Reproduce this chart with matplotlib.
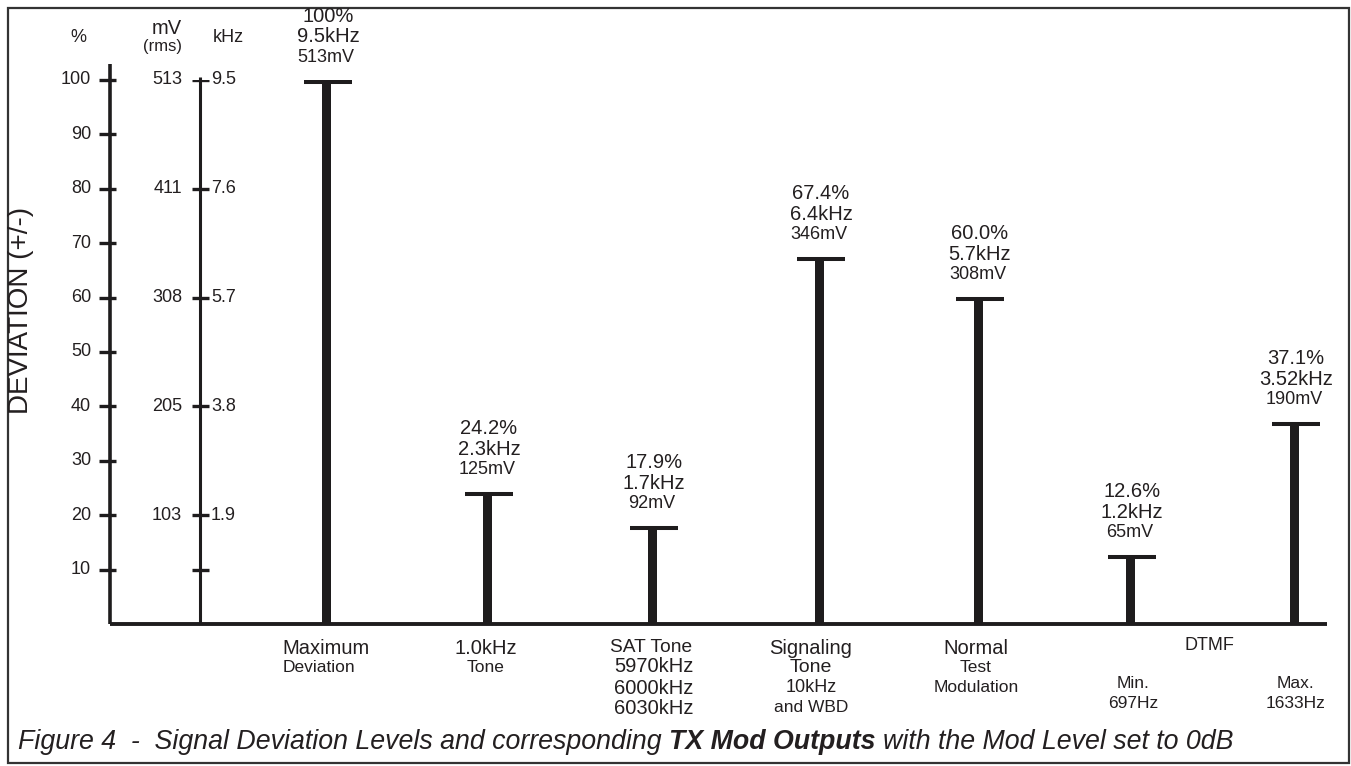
import matplotlib.pyplot as plt
from matplotlib.patches import Rectangle

plt.rcParams['font.family'] = ['Liberation Sans', 'DejaVu Sans']

# values (deviation in % of max, kHz and mV equivalents)
deviation_pct = [100, 24.2, 17.9, 67.4, 60.0, 12.6, 37.1]
pct_labels = ["100%", "24.2%", "17.9%", "67.4%", "60.0%", "12.6%", "37.1%"]
khz_labels = ["9.5kHz", "2.3kHz", "1.7kHz", "6.4kHz", "5.7kHz", "1.2kHz", "3.52kHz"]
mv_labels = ["513mV", "125mV", "92mV", "346mV", "308mV", "65mV", "190mV"]

# text under each bar (first line larger)
cat_lines = [
    ["Maximum", "Deviation"],
    ["1.0kHz", "Tone"],
    ["SAT Tone", "5970kHz", "6000kHz", "6030kHz"],
    ["Signaling", "Tone", "10kHz", "and WBD"],
    ["Normal", "Test", "Modulation"],
    ["Min.", "697Hz"],
    ["Max.", "1633Hz"],
]
group_label = "DTMF"

# left hand scales
pct_ticks = [10, 20, 30, 40, 50, 60, 70, 80, 90, 100]
scale_ticks = [100, 80, 60, 40, 20, 10]
mv_ticks = ["513", "411", "308", "205", "103", ""]
khz_ticks = ["9.5", "7.6", "5.7", "3.8", "1.9", ""]

W, H = 1351, 766
Y0, Y100 = 624, 80          # pixel rows of 0% and 100%
bar_x = [326, 487, 652, 819, 978, 1130, 1294]
ink = '#1e1c1d'
txt = '#231f20'

fig = plt.figure(figsize=(W / 100, H / 100), dpi=100)

# background canvas in pixel units (frame, headers, captions)
bg = fig.add_axes([0, 0, 1, 1])
bg.set_xlim(0, W)
bg.set_ylim(H, 0)
bg.axis('off')

# chart axes: x in pixels, y in percent
ax = fig.add_axes([0, (H - Y0) / H, 1, (Y0 - Y100) / H])
ax.set_xlim(0, W)
ax.set_ylim(0, 100)
ax.axis('off')

bg.add_patch(Rectangle((8, 8), 1341, 755, fill=False, lw=1.6, ec='#333333'))

# percent scale
ax.plot([110, 110], [0, 103], color=ink, lw=2.6, solid_capstyle='butt', clip_on=False)
ax.hlines(pct_ticks, 99, 116, color=ink, lw=2.4, clip_on=False)
for t in pct_ticks:
    ax.text(91, t, str(t), ha='right', va='center', fontsize=13, color=txt)

# mV / kHz scale
ax.plot([200, 200], [0, 100.6], color=ink, lw=2.2, solid_capstyle='butt', clip_on=False)
ax.hlines(scale_ticks, 192, 209, color=ink, lw=2.4)
for t, mv, kh in zip(scale_ticks, mv_ticks, khz_ticks):
    ax.text(182, t, mv, ha='right', va='center', fontsize=13, color=txt)
    ax.text(211, t, kh, ha='left', va='center', fontsize=13, color=txt)

# baseline
ax.plot([110, 1327], [0, 0], color=ink, lw=2.8, solid_capstyle='butt', clip_on=False)

# bars with T caps
ax.bar(bar_x, deviation_pct, width=9, color=ink, zorder=3)
for x, v in zip(bar_x, deviation_pct):
    ax.hlines(v - 0.3, x - 22, x + 26, color=ink, lw=2.9, zorder=3)

for x, v, p, k, m in zip(bar_x, deviation_pct, pct_labels, khz_labels, mv_labels):
    ax.annotate(p, (x + 2, v), xytext=(0, 64), textcoords='offset pixels',
                ha='center', va='center', fontsize=14.5, color=txt, annotation_clip=False)
    ax.annotate(k, (x + 2, v), xytext=(0, 43), textcoords='offset pixels',
                ha='center', va='center', fontsize=14.5, color=txt, annotation_clip=False)
    ax.annotate(m, (x, v), xytext=(0, 23), textcoords='offset pixels',
                ha='center', va='center', fontsize=13, color=txt, annotation_clip=False)

# headers of the left scales
bg.text(78, 38, "%", ha='center', va='center', fontsize=13, color=txt)
bg.text(167, 28, "mV", ha='center', va='center', fontsize=14.5, color=txt)
bg.text(163, 47, "(rms)", ha='center', va='center', fontsize=12, color=txt)
bg.text(228, 38, "kHz", ha='center', va='center', fontsize=13, color=txt)

bg.text(21, 310, "DEVIATION (+/-)", rotation=90, ha='center', va='center',
        fontsize=20, color=txt)

# labels under the bars
row_y = [648, 667, 688, 708]
cat_x = [326, 486, 652, 811, 976, 1133, 1296]
small = {"Deviation", "Tone", "Test", "Modulation", "and WBD", "Min.", "697Hz", "Max.", "1633Hz"}
for i, lines in enumerate(cat_lines):
    rows = row_y
    if i >= 5:
        rows = [683, 703]
    for j, s in enumerate(lines):
        fs = 14.5 if j == 0 and i < 5 else 13
        if s in small:
            fs = 12.5
        if i == 3 and j == 1:
            fs = 14
        x = cat_x[i]
        if s == "Deviation":
            x = 319
        if i == 2:
            # SAT column: tone frequencies right aligned under the heading
            fs = 13.8 if j == 0 else 14.5
            x = 654 if j else 651
        bg.text(x, rows[j], s, ha='center', va='center', fontsize=fs, color=txt)
bg.text(1209, 645, group_label, ha='center', va='center', fontsize=13, color=txt)

# caption: italic with a bold italic part
fig.canvas.draw()
renderer = fig.canvas.get_renderer()
cap_fs = 19.3
pieces = [("Figure 4  -  Signal Deviation Levels and corresponding", 'normal'),
          ("TX Mod Outputs", 'bold'),
          ("with the Mod Level set to 0dB", 'normal')]
space = 0.278 * cap_fs * 100 / 72
cx = 18
for s, w in pieces:
    t = bg.text(cx, 742, s, ha='left', va='center', fontsize=cap_fs, style='italic',
                fontweight=w, color=txt)
    cx += t.get_window_extent(renderer).width + space

fig.savefig('out.png', dpi=100)
